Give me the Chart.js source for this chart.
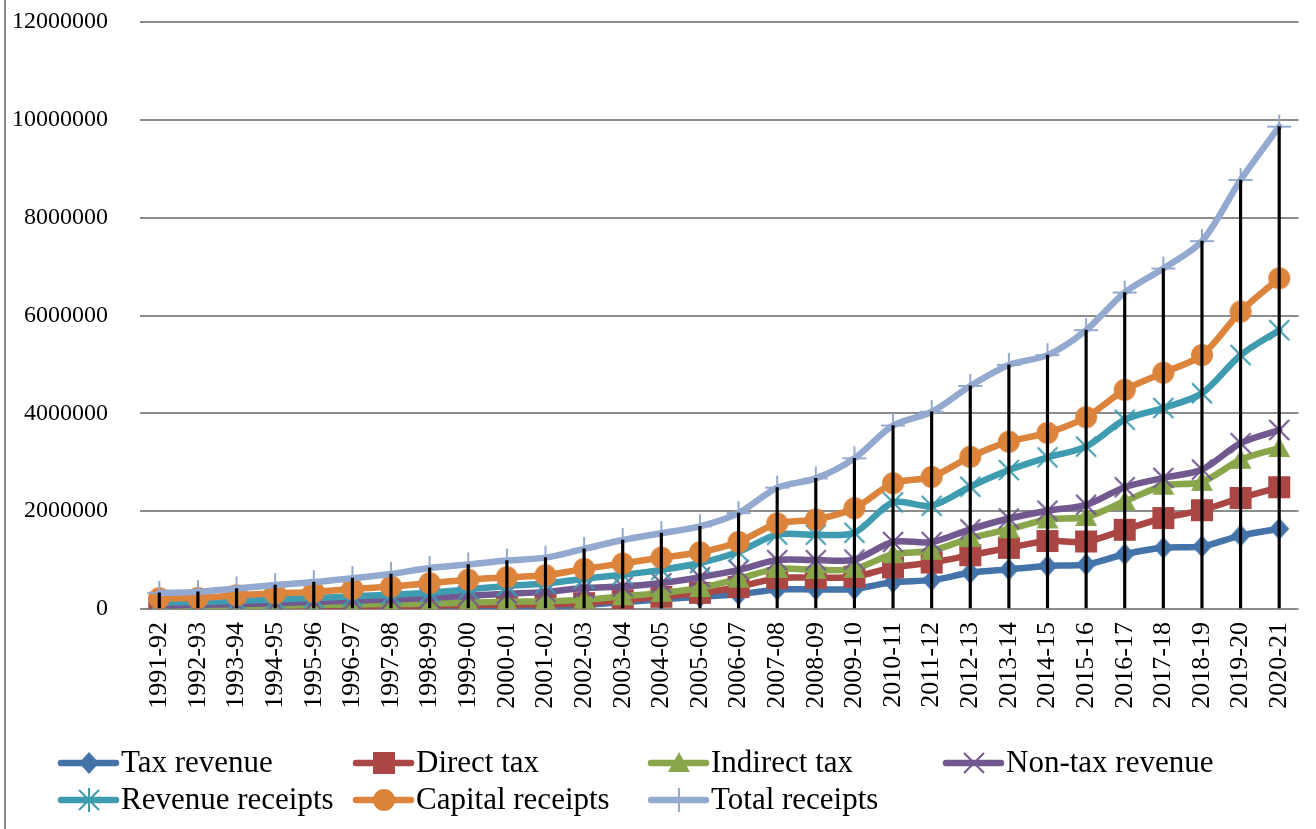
<!DOCTYPE html>
<html>
<head>
<meta charset="utf-8">
<script src="https://cdn.jsdelivr.net/npm/chart.js@4.4.1/dist/chart.umd.min.js"></script>
<style>
  html, body { margin: 0; padding: 0; background: #ffffff; }
  #wrap { width: 1316px; height: 829px; position: relative; }
</style>
</head>
<body>
<div id="wrap"><canvas id="c" width="1316" height="829"></canvas></div>
<script>
// ---------- DATA ----------
const categories = ["1991-92","1992-93","1993-94","1994-95","1995-96","1996-97","1997-98","1998-99","1999-00","2000-01",
  "2001-02","2002-03","2003-04","2004-05","2005-06","2006-07","2007-08","2008-09","2009-10","2010-11",
  "2011-12","2012-13","2013-14","2014-15","2015-16","2016-17","2017-18","2018-19","2019-20","2020-21"];

const taxRevenue = [25000,28000,30000,35000,38000,42000,45000,48000,50000,55000,
  60000,80000,140000,200000,250000,300000,400000,400000,410000,550000,
  590000,740000,810000,880000,910000,1120000,1250000,1280000,1500000,1640000];

const directTax = [30000,35000,38000,45000,55000,60000,65000,70000,80000,90000,
  100000,120000,180000,250000,330000,450000,630000,640000,660000,850000,
  950000,1100000,1250000,1390000,1380000,1620000,1860000,2020000,2270000,2490000];

const indirectTax = [50000,55000,60000,70000,80000,90000,100000,110000,130000,150000,
  160000,190000,260000,330000,430000,620000,820000,800000,820000,1120000,
  1190000,1450000,1630000,1830000,1880000,2200000,2520000,2600000,3050000,3290000];

const nonTaxRevenue = [70000,85000,100000,120000,145000,170000,195000,225000,270000,310000,
  350000,430000,460000,530000,650000,800000,1000000,1000000,1010000,1370000,
  1370000,1630000,1850000,2010000,2130000,2490000,2680000,2850000,3390000,3660000];

const revenueReceipts = [130000,145000,165000,195000,225000,260000,290000,330000,400000,470000,
  520000,620000,700000,800000,940000,1170000,1520000,1520000,1560000,2180000,
  2110000,2500000,2840000,3100000,3320000,3870000,4110000,4410000,5190000,5700000];

const capitalReceipts = [220000,225000,280000,320000,350000,410000,460000,530000,600000,650000,
  690000,820000,930000,1050000,1160000,1370000,1750000,1830000,2060000,2570000,
  2700000,3110000,3420000,3600000,3920000,4480000,4830000,5190000,6080000,6760000];

const totalReceipts = [330000,350000,420000,490000,550000,630000,715000,840000,910000,990000,
  1050000,1230000,1410000,1550000,1690000,1960000,2480000,2670000,3080000,3750000,
  4030000,4560000,4990000,5190000,5700000,6470000,6960000,7520000,8770000,9860000];

const seriesNames = ["Tax revenue","Direct tax","Indirect tax","Non-tax revenue","Revenue receipts","Capital receipts","Total receipts"];
const yTicks = [0,2000000,4000000,6000000,8000000,10000000,12000000];

// ---------- STYLE ----------
const FONT = '"Liberation Serif", "Times New Roman", serif';
const colors = ["#4473a9","#aa4643","#8aa64b","#71588f","#3f9bb0","#dc843c","#93a9cf"];
const markerKinds = ["diamond","square","triangle","x","star","circle","plus"];

function makeMarker(kind, color) {
  const s = 28, m = s / 2;
  const c = document.createElement('canvas');
  c.width = s; c.height = s;
  const g = c.getContext('2d');
  g.fillStyle = color; g.strokeStyle = color; g.lineWidth = 2; g.lineCap = 'butt';
  g.beginPath();
  switch (kind) {
    case 'diamond':
      g.moveTo(m, m - 11); g.lineTo(m + 10, m); g.lineTo(m, m + 11); g.lineTo(m - 10, m); g.closePath(); g.fill(); break;
    case 'square':
      g.rect(m - 11, m - 11, 22, 22); g.fill(); break;
    case 'triangle':
      g.moveTo(m, m - 11); g.lineTo(m + 11, m + 9); g.lineTo(m - 11, m + 9); g.closePath(); g.fill(); break;
    case 'x':
      g.moveTo(m - 10, m - 10); g.lineTo(m + 10, m + 10); g.moveTo(m + 10, m - 10); g.lineTo(m - 10, m + 10); g.stroke(); break;
    case 'star':
      g.moveTo(m - 10, m - 10); g.lineTo(m + 10, m + 10); g.moveTo(m + 10, m - 10); g.lineTo(m - 10, m + 10);
      g.moveTo(m, m - 12); g.lineTo(m, m + 12); g.stroke(); break;
    case 'circle':
      g.arc(m, m, 11, 0, Math.PI * 2); g.fill(); break;
    case 'plus':
      g.moveTo(m - 12, m); g.lineTo(m + 12, m); g.moveTo(m, m - 12); g.lineTo(m, m + 12); g.stroke(); break;
  }
  return c;
}

const seriesData = [taxRevenue, directTax, indirectTax, nonTaxRevenue, revenueReceipts, capitalReceipts, totalReceipts];
const markers = markerKinds.map((k, i) => makeMarker(k, colors[i]));

const lineDatasets = seriesData.map((d, i) => ({
  type: 'line',
  label: seriesNames[i],
  data: d,
  borderColor: colors[i],
  backgroundColor: colors[i],
  borderWidth: 6.5,
  tension: 0.3,
  pointStyle: markers[i],
  pointRadius: 11,
  pointHoverRadius: 11,
  fill: false,
  order: 10 - i,
  borderCapStyle: 'round',
  borderJoinStyle: 'round'
}));

const dropLines = {
  type: 'bar',
  label: 'drop',
  data: totalReceipts.map(v => [0, v]),
  backgroundColor: '#000000',
  borderWidth: 0,
  barThickness: 2.5,
  order: 0
};

// ---------- PLUGINS ----------
const bgPlugin = {
  id: 'bg',
  beforeDraw(chart) {
    const ctx = chart.ctx;
    ctx.save();
    ctx.fillStyle = '#ffffff';
    ctx.fillRect(0, 0, chart.width, chart.height);
    ctx.strokeStyle = '#8a8a8a';
    ctx.lineWidth = 2;
    ctx.beginPath();
    ctx.moveTo(5, 0); ctx.lineTo(5, chart.height);
    ctx.stroke();
    ctx.restore();
  }
};

const legendCols = [58, 353, 648, 943];
const legendRows = [763, 800];
const legendPlugin = {
  id: 'customLegend',
  afterDraw(chart) {
    const ctx = chart.ctx;
    ctx.save();
    ctx.font = '31px ' + FONT;
    ctx.textBaseline = 'middle';
    ctx.textAlign = 'left';
    seriesNames.forEach((name, i) => {
      const col = i < 4 ? i : i - 4;
      const row = i < 4 ? 0 : 1;
      const x0 = legendCols[col];
      const y = legendRows[row];
      ctx.strokeStyle = colors[i];
      ctx.lineWidth = 6.5;
      ctx.lineCap = 'round';
      ctx.beginPath();
      ctx.moveTo(x0 + 3, y); ctx.lineTo(x0 + 58, y);
      ctx.stroke();
      const mk = markers[i];
      ctx.drawImage(mk, x0 + 31 - mk.width / 2, y - mk.height / 2);
      ctx.fillStyle = '#000000';
      ctx.fillText(name, x0 + 63, y + 1);
    });
    ctx.restore();
  }
};

// ---------- CHART ----------
new Chart(document.getElementById('c'), {
  data: {
    labels: categories,
    datasets: [...lineDatasets, dropLines]
  },
  options: {
    responsive: false,
    animation: false,
    layout: { padding: { left: 10, right: 14, top: 22, bottom: 110 } },
    plugins: {
      legend: { display: false },
      tooltip: { enabled: false },
      title: { display: false }
    },
    scales: {
      x: {
        type: 'category',
        offset: true,
        grid: { display: false, drawTicks: false },
        border: { display: false },
        ticks: {
          autoSkip: false,
          minRotation: 90,
          maxRotation: 90,
          padding: 13,
          color: '#000000',
          font: { family: FONT, size: 26 }
        },
        afterFit(scale) { scale.height = 110; scale.paddingLeft = 0; scale.paddingRight = 0; }
      },
      y: {
        min: 0,
        max: 12000000,
        afterBuildTicks(scale) { scale.ticks = yTicks.map(v => ({ value: v })); },
        grid: { color: '#8c8c8c', lineWidth: 2, drawTicks: false },
        border: { display: false },
        ticks: {
          padding: 32,
          color: '#000000',
          font: { family: FONT, size: 24 },
          callback: (v) => String(v)
        },
        afterFit(scale) { scale.width = 130; scale.paddingTop = 0; scale.paddingBottom = 0; }
      }
    }
  },
  plugins: [bgPlugin, legendPlugin]
});
</script>
</body>
</html>
